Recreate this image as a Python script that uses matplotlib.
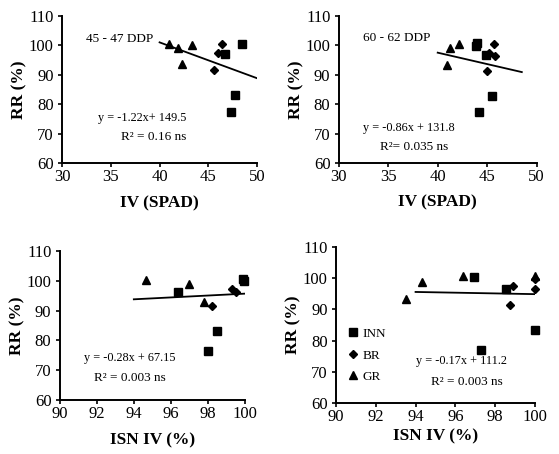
import matplotlib
matplotlib.use('Agg')
import matplotlib.pyplot as plt

plt.rcParams['font.family'] = ['Liberation Serif', 'DejaVu Serif']

# panel 1: 45 - 47 DDP, IV (SPAD)
p1_inn_x = [46.7, 48.4, 47.7, 47.3]
p1_inn_y = [97.0, 100.4, 83.1, 77.3]
p1_br_x = [46.4, 46.0, 45.6]
p1_br_y = [100.4, 97.3, 91.6]
p1_gr_x = [41.0, 41.9, 43.3, 42.3]
p1_gr_y = [100.4, 99.0, 100.1, 93.6]
p1_fit_x = [40, 50]
p1_fit_y = [101.0, 88.8]

# panel 2: 60 - 62 DDP, IV (SPAD)
p2_inn_x = [44.0, 43.9, 44.85, 45.5, 44.2]
p2_inn_y = [100.7, 99.9, 96.7, 82.8, 77.2]
p2_br_x = [45.7, 45.2, 45.8, 45.0]
p2_br_y = [100.5, 97.3, 96.4, 91.4]
p2_gr_x = [41.2, 42.2, 40.9]
p2_gr_y = [99.0, 100.5, 93.3]
p2_fit_x = [40, 48.5]
p2_fit_y = [97.5, 90.9]

# panel 3: ISN IV, first date
p3_inn_x = [96.4, 99.9, 99.95, 98.5, 98.0]
p3_inn_y = [96.1, 100.5, 99.8, 83.2, 76.6]
p3_br_x = [98.25, 99.3, 99.5]
p3_br_y = [91.5, 97.1, 96.4]
p3_gr_x = [94.65, 97.0, 97.8]
p3_gr_y = [100.2, 98.9, 93.0]
p3_fit_x = [94, 100]
p3_fit_y = [93.8, 95.7]

# panel 4: ISN IV, second date
p4_inn_x = [96.95, 98.55, 100.0, 97.3]
p4_inn_y = [100.4, 96.4, 83.5, 77.0]
p4_br_x = [98.9, 100.0, 98.75, 100.0]
p4_br_y = [97.4, 96.6, 91.4, 99.6]
p4_gr_x = [93.5, 94.3, 96.4, 100.0]
p4_gr_y = [93.2, 98.8, 100.6, 100.8]
p4_fit_x = [94, 100]
p4_fit_y = [95.6, 94.9]

panels = [
    dict(pos=[0.111, 0.641, 0.349, 0.324], xlim=(30, 50), xticks=[30, 35, 40, 45, 50],
         inn=(p1_inn_x, p1_inn_y), br=(p1_br_x, p1_br_y), gr=(p1_gr_x, p1_gr_y),
         fit=(p1_fit_x, p1_fit_y), xlabel='IV (SPAD)', labelpad=8,
         title=('45 - 47 DDP', 32.5, 102.2),
         eq=('y = -1.22x+ 149.5', 38.2, 75.2), r2=('R² = 0.16 ns', 39.4, 69.0)),
    dict(pos=[0.606, 0.641, 0.354, 0.324], xlim=(30, 50), xticks=[30, 35, 40, 45, 50],
         inn=(p2_inn_x, p2_inn_y), br=(p2_br_x, p2_br_y), gr=(p2_gr_x, p2_gr_y),
         fit=(p2_fit_x, p2_fit_y), xlabel='IV (SPAD)', labelpad=7,
         title=('60 - 62 DDP', 32.45, 102.4),
         eq=('y = -0.86x + 131.8', 37.1, 71.8), r2=('R²= 0.035 ns', 37.6, 65.5)),
    dict(pos=[0.107, 0.119, 0.331, 0.328], xlim=(90, 100), xticks=[90, 92, 94, 96, 98, 100],
         inn=(p3_inn_x, p3_inn_y), br=(p3_br_x, p3_br_y), gr=(p3_gr_x, p3_gr_y),
         fit=(p3_fit_x, p3_fit_y), xlabel='ISN IV (%)', labelpad=8,
         title=None,
         eq=('y = -0.28x + 67.15', 93.8, 74.1), r2=('R² = 0.003 ns', 93.8, 67.4)),
    dict(pos=[0.601, 0.112, 0.356, 0.344], xlim=(90, 100), xticks=[90, 92, 94, 96, 98, 100],
         inn=(p4_inn_x, p4_inn_y), br=(p4_br_x, p4_br_y), gr=(p4_gr_x, p4_gr_y),
         fit=(p4_fit_x, p4_fit_y), xlabel='ISN IV (%)', labelpad=3,
         title=None,
         eq=('y = -0.17x + 111.2', 96.3, 73.6), r2=('R² = 0.003 ns', 96.6, 66.8)),
]

fig = plt.figure(figsize=(5.59, 4.54), dpi=100)

for i, p in enumerate(panels):
    ax = fig.add_axes(p['pos'])
    ax.plot(*p['fit'], color='black', lw=1.3, zorder=2)
    ax.plot(*p['inn'], 's', color='black', ms=5.5, ls='none', clip_on=False, label='INN', zorder=3)
    ax.plot(*p['br'], 'D', color='black', ms=4.2, ls='none', clip_on=False, label='BR', zorder=3)
    ax.plot(*p['gr'], '^', color='black', ms=6, ls='none', clip_on=False, label='GR', zorder=3)
    ax.set_xlim(*p['xlim'])
    ax.set_ylim(60, 110)
    ax.set_xticks(p['xticks'])
    ax.set_yticks([60, 70, 80, 90, 100, 110])
    for s in ['top', 'right']:
        ax.spines[s].set_visible(False)
    for s in ['left', 'bottom']:
        ax.spines[s].set_linewidth(1.4)
    ax.tick_params(labelsize=12, length=3, width=1.2, pad=1)
    ax.tick_params(axis='y', pad=3)
    ax.set_xlabel(p['xlabel'], fontsize=12.5, fontweight='bold', labelpad=p['labelpad'])
    ax.set_ylabel('RR (%)', fontsize=12.5, fontweight='bold', labelpad=1)
    if p['title']:
        t, tx, ty = p['title']
        ax.text(tx, ty, t, fontsize=9.5, ha='left', va='center')
    t, tx, ty = p['eq']
    ax.text(tx, ty, t, fontsize=8.8, ha='center', va='center')
    t, tx, ty = p['r2']
    ax.text(tx, ty, t, fontsize=9.5, ha='center', va='center')
    if i == 3:
        ax.legend(loc='lower left', bbox_to_anchor=(0.0, 0.07), frameon=False,
                  fontsize=9.5, handletextpad=0.1, labelspacing=0.7,
                  handlelength=1.2, borderpad=0.2)

fig.savefig('out.png', dpi=100)
